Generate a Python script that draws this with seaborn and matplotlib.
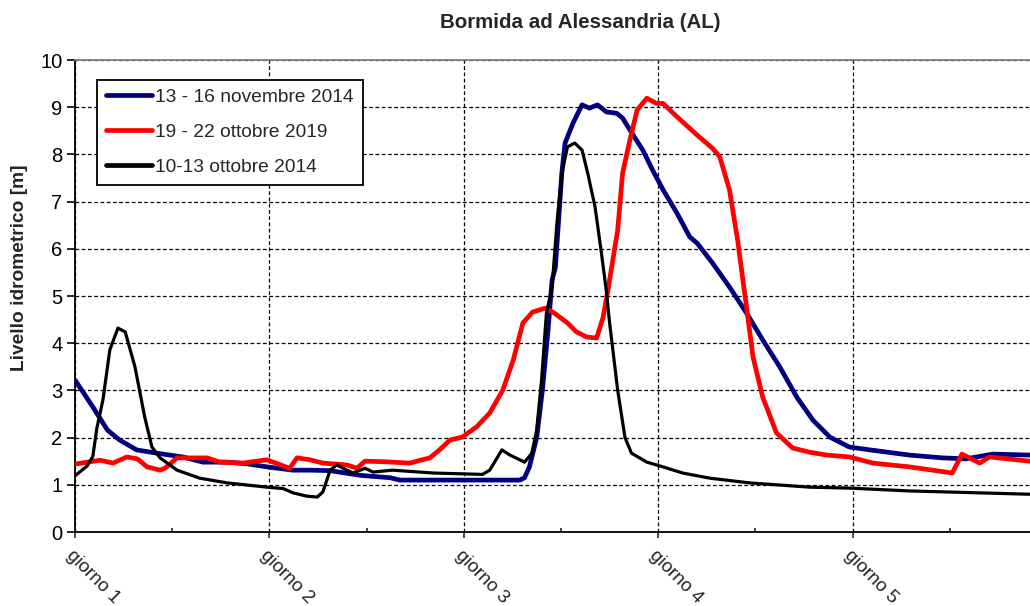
import matplotlib
matplotlib.use("Agg")
import matplotlib.pyplot as plt
import seaborn as sns
import pandas as pd
from matplotlib.ticker import MultipleLocator

# --- data: water level [m] vs hours from start of "giorno 1" ---
nov2014_h = [0, 2.2, 4.0, 5.5, 7.6, 10.1, 13.3, 15.8, 18.8, 21.0, 23.7, 26.9, 29.0, 31.5,
             35.2, 38.9, 40.1, 45.0, 50.0, 54.9, 55.5, 56.1, 57.0, 57.7, 58.4, 58.9, 59.3,
             60.1, 60.5, 61.5, 62.6, 63.5, 64.5, 65.6, 66.9, 67.6, 68.5, 70.1, 71.3, 72.6,
             74.3, 75.9, 76.8, 78.7, 80.8, 82.9, 84.9, 87.0, 89.1, 91.1, 93.2, 95.6, 98.1,
             103.0, 107.1, 110.0, 113.3, 117.9]
nov2014_m = [3.22, 2.65, 2.16, 1.95, 1.74, 1.67, 1.59, 1.48, 1.48, 1.45, 1.38, 1.31, 1.31, 1.30,
             1.20, 1.15, 1.10, 1.10, 1.10, 1.10, 1.15, 1.38, 2.00, 3.00, 4.28, 5.34, 5.60,
             7.60, 8.24, 8.67, 9.05, 8.98, 9.05, 8.90, 8.87, 8.77, 8.52, 8.09, 7.67, 7.25,
             6.76, 6.25, 6.12, 5.70, 5.19, 4.64, 4.07, 3.50, 2.86, 2.37, 2.01, 1.80, 1.74,
             1.63, 1.57, 1.55, 1.65, 1.63]

ott2019_h = [0, 3.1, 4.7, 6.4, 7.7, 8.9, 10.5, 11.1, 12.6, 16.3, 17.9, 20.7, 23.7, 26.5, 27.4,
             29.0, 30.6, 33.6, 34.8, 35.8, 38.0, 41.3, 43.8, 45.0, 46.3, 47.8, 49.6, 51.2,
             52.8, 54.1, 55.3, 56.5, 58.0, 59.0, 60.8, 61.9, 63.2, 64.4, 65.2, 65.8, 67.0,
             67.6, 68.5, 69.4, 70.6, 71.8, 72.6, 74.3, 76.8, 78.7, 79.6, 80.8, 81.8, 82.9,
             83.7, 84.9, 86.6, 88.6, 90.7, 92.8, 95.6, 98.5, 103.0, 108.3, 109.5, 111.7,
             112.9, 117.9]
ott2019_m = [1.44, 1.52, 1.46, 1.59, 1.55, 1.38, 1.31, 1.35, 1.57, 1.57, 1.48, 1.46, 1.53, 1.35,
             1.57, 1.53, 1.46, 1.42, 1.35, 1.50, 1.49, 1.46, 1.57, 1.74, 1.95, 2.01, 2.23,
             2.52, 3.00, 3.64, 4.43, 4.66, 4.74, 4.66, 4.43, 4.24, 4.13, 4.11, 4.55, 5.13,
             6.40, 7.60, 8.30, 8.94, 9.19, 9.08, 9.08, 8.80, 8.41, 8.13, 7.95, 7.25, 6.19,
             4.77, 3.71, 2.86, 2.10, 1.78, 1.69, 1.63, 1.59, 1.46, 1.38, 1.25, 1.65, 1.46,
             1.59, 1.50]

ott2014_h = [0, 1.5, 2.2, 2.7, 3.45, 4.3, 5.3, 6.2, 7.4, 8.6, 9.5, 10.5, 12.6, 15.4, 18.8,
             23.7, 25.7, 26.9, 28.6, 29.9, 30.6, 31.5, 32.3, 34.3, 35.8, 36.8, 39.2, 44.2,
             50.3, 51.2, 52.7, 53.7, 55.5, 56.4, 57.0, 57.6, 58.2, 58.9, 59.5, 60.1, 60.8,
             61.7, 62.6, 63.3, 64.2, 65.0, 65.6, 66.0, 67.0, 67.9, 68.7, 70.6, 72.6, 75.0,
             78.4, 83.3, 90.7, 95.6, 103.0, 117.9]
ott2014_m = [1.19, 1.40, 1.60, 2.20, 2.80, 3.86, 4.32, 4.24, 3.50, 2.44, 1.80, 1.57, 1.31, 1.14,
             1.04, 0.95, 0.92, 0.83, 0.76, 0.74, 0.85, 1.31, 1.42, 1.25, 1.35, 1.27, 1.31, 1.25,
             1.22, 1.31, 1.74, 1.63, 1.48, 1.67, 2.16, 3.22, 4.64, 5.19, 6.55, 7.60, 8.16,
             8.24, 8.09, 7.60, 6.89, 5.90, 5.10, 4.43, 3.00, 2.00, 1.67, 1.48, 1.38, 1.25,
             1.14, 1.04, 0.95, 0.93, 0.87, 0.80]

series_labels = ["13 - 16 novembre 2014", "19 - 22 ottobre 2019", "10-13 ottobre 2014"]
day_labels = ["giorno 1", "giorno 2", "giorno 3", "giorno 4", "giorno 5"]

frames = []
for lab, h, m in zip(series_labels,
                     [nov2014_h, ott2019_h, ott2014_h],
                     [nov2014_m, ott2019_m, ott2014_m]):
    frames.append(pd.DataFrame({"ore": h, "livello": m, "evento": lab}))
df = pd.concat(frames, ignore_index=True)

sns.set_theme(style="white")
plt.rcParams["font.family"] = ["Liberation Sans", "DejaVu Sans"]

fig = plt.figure(figsize=(10.3, 6.06), dpi=100)
ax = fig.add_axes([75 / 1030, 74 / 606, 955 / 1030, 472 / 606])

colors = {series_labels[0]: "#000080", series_labels[1]: "#ff0000", series_labels[2]: "#000000"}
widths = {series_labels[0]: 3.4, series_labels[1]: 3.4, series_labels[2]: 2.3}

for lab in series_labels:
    sns.lineplot(data=df[df["evento"] == lab], x="ore", y="livello", ax=ax,
                 color=colors[lab], linewidth=widths[lab], label=lab,
                 sort=False, zorder=3)

ax.set_xlim(0, 117.9)
ax.set_ylim(0, 10)
ax.xaxis.set_major_locator(MultipleLocator(24))
ax.xaxis.set_minor_locator(MultipleLocator(12))
ax.set_xticks([0, 24, 48, 72, 96])
ax.set_xticklabels(day_labels, rotation=-45, ha="left", va="top",
                   rotation_mode="anchor", fontsize=13.5, color="#222222")
ax.set_yticks(range(0, 11))
ax.tick_params(axis="y", labelsize=14.5, length=6, width=1.2, direction="out",
               left=True, colors="black", pad=3)
ax.tick_params(axis="x", which="major", length=4.5, width=1.2, direction="out",
               bottom=True, pad=6)
ax.tick_params(axis="x", which="minor", length=3, width=1.2, direction="in", bottom=True)

ax.grid(True, which="major", color="black", linestyle=(0, (3, 2)), linewidth=0.9)
ax.set_axisbelow(True)

for side in ["left", "bottom"]:
    ax.spines[side].set_color("black")
    ax.spines[side].set_linewidth(1.3)
ax.spines["top"].set_color("#808080")
ax.spines["top"].set_linewidth(1.3)
ax.spines["right"].set_visible(False)

ax.set_xlabel("")
ax.set_ylabel("Livello idrometrico [m]", fontsize=13.8, fontweight="bold")
ax.yaxis.set_label_coords(-0.049, 0.561)

leg = ax.legend(loc="upper left", bbox_to_anchor=(0.023, 0.958), fontsize=13.8,
                frameon=True, fancybox=False, edgecolor="black", framealpha=1,
                handlelength=2.4, handletextpad=0.2, borderpad=0.45, labelspacing=0.92,
                borderaxespad=0)
leg.get_frame().set_linewidth(1.3)
for line in leg.get_lines():
    line.set_linewidth(3.4)

fig.text(580 / 1030, 1 - 22 / 606, "Bormida ad Alessandria (AL)", ha="center", va="center",
         fontsize=14.8, fontweight="bold")

fig.savefig("out.png", dpi=100)
